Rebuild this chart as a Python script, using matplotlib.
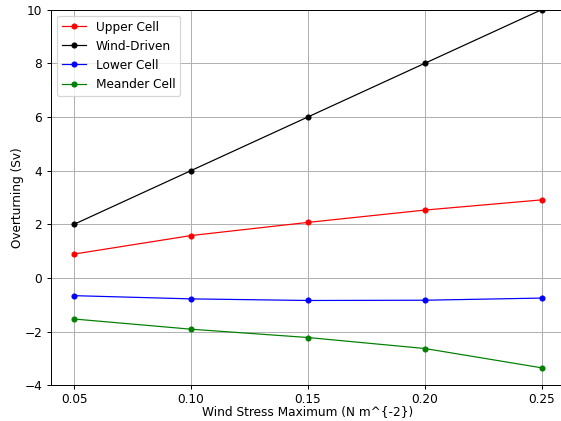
import matplotlib
matplotlib.use('Agg')
import matplotlib.pyplot as plt

wind_stress = [0.05, 0.10, 0.15, 0.20, 0.25]
upper_cell = [0.89, 1.58, 2.07, 2.53, 2.91]
wind_driven = [2.0, 4.0, 6.0, 8.0, 10.0]
lower_cell = [-0.66, -0.78, -0.84, -0.83, -0.75]
meander_cell = [-1.53, -1.91, -2.22, -2.63, -3.35]

DPI = 561 / 6.4

fig = plt.figure(figsize=(6.4, 421.2 / DPI), dpi=DPI)
# axes runs slightly past the right edge, as in the reference
ax = fig.add_axes([50.7 / 561, 1 - 385.3 / 421, 514.5 / 561, 375.5 / 421])

ax.plot(wind_stress, upper_cell, color='red', marker='o', markersize=4, linewidth=1, label='Upper Cell')
ax.plot(wind_stress, wind_driven, color='black', marker='o', markersize=4, linewidth=1, label='Wind-Driven')
ax.plot(wind_stress, lower_cell, color='blue', marker='o', markersize=4, linewidth=1, label='Lower Cell')
ax.plot(wind_stress, meander_cell, color='green', marker='o', markersize=4, linewidth=1, label='Meander Cell')

ax.set_xlim(0.04, 0.26)
ax.set_ylim(-4, 10)
ax.set_xticks(wind_stress)
ax.tick_params(axis='x', pad=3)
ax.set_xlabel('Wind Stress Maximum (N m^{-2})', labelpad=-1)
ax.set_ylabel('Overturning (Sv)', labelpad=0)
ax.grid(True, color='#b0b0b0', linewidth=0.8)
ax.legend(loc='upper left')

fig.savefig('out.png', dpi=DPI)
